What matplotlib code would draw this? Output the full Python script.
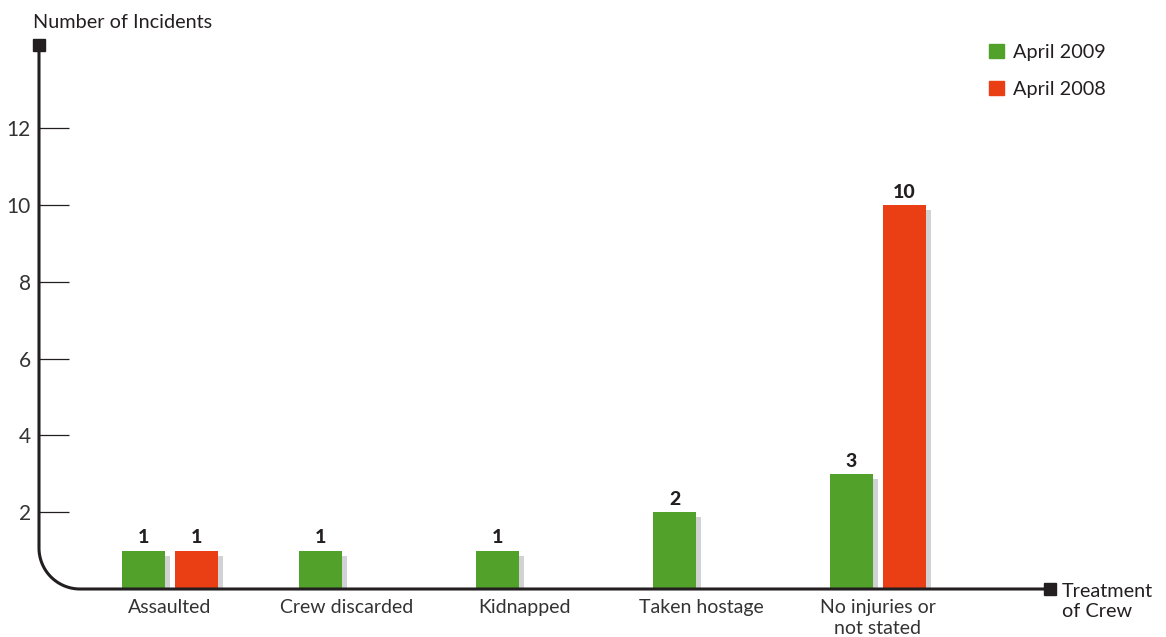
import matplotlib
matplotlib.use("Agg")
import matplotlib.pyplot as plt
from matplotlib.lines import Line2D
import numpy as np

plt.rcParams['font.family'] = ['Lato', 'DejaVu Sans']

categories = ["Assaulted", "Crew discarded", "Kidnapped", "Taken hostage", "No injuries or\nnot stated"]
april_2009 = [1, 1, 1, 2, 3]
april_2008 = [1, None, None, None, 10]
series_labels = ["April 2009", "April 2008"]
yticks = [2, 4, 6, 8, 10, 12]

GREEN = "#52a12b"
RED = "#ea3f14"
SHADOW = "#d1d2d4"
INK = "#231f20"

W, H = 1166, 637
fig = plt.figure(figsize=(W / 100, H / 100), dpi=100)

def fx(px):
    return px / W

def fy(py):
    return 1 - py / H

# axes geometry (pixels)
x_left, x_right = 39, 1050
y_base, y_top = 589, 45
ax = fig.add_axes([fx(x_left), fy(y_base), fx(x_right) - fx(x_left), fy(y_top) - fy(y_base)])
ax.patch.set_visible(False)
for s in ax.spines.values():
    s.set_visible(False)

px_per_cat = 177.0
px_per_unit = 38.4
first_center = (170 - x_left) / px_per_cat
ax.set_xlim(-first_center, (x_right - x_left) / px_per_cat - first_center)
ax.set_ylim(0, (y_base - y_top) / px_per_unit)

bw = 43 / px_per_cat
off_g = -26.5 / px_per_cat
off_r = 26.5 / px_per_cat
sh_dx = 5 / px_per_cat
sh_dy = 5 / px_per_unit

x = np.arange(len(categories))

def draw_series(vals, off, color):
    xs = [xi + off for xi, v in zip(x, vals) if v is not None]
    vs = [v for v in vals if v is not None]
    ax.bar([xx + sh_dx for xx in xs], [v - sh_dy for v in vs], width=bw, color=SHADOW, zorder=1)
    ax.bar(xs, vs, width=bw, color=color, zorder=2)
    for xx, v in zip(xs, vs):
        ax.annotate(str(v), (xx, v), xytext=(0, 3), textcoords="offset points",
                    ha="center", va="bottom", fontsize=14, fontweight="black", color=INK)

draw_series(april_2009, off_g, GREEN)
draw_series(april_2008, off_r, RED)

ax.set_yticks(yticks)
ax.set_yticklabels([str(t) for t in yticks])
ax.tick_params(axis="y", direction="in", length=30 * 0.72, width=0.9, color=INK,
               labelsize=15, labelcolor="#333333", pad=6)
ax.set_xticks(x)
ax.set_xticklabels(categories, linespacing=1.3)
ax.tick_params(axis="x", length=0, labelsize=14, labelcolor="#333333", pad=7)

# custom axis lines with rounded corner
r = 41
theta = np.linspace(np.pi, 1.5 * np.pi, 40)
arc_x = (x_left + r) + r * np.cos(theta)
arc_y = (y_base - r) - r * np.sin(theta)
path_x = np.concatenate([[x_left], arc_x, [x_right]])
path_y = np.concatenate([[y_top], arc_y, [y_base]])
fig.add_artist(Line2D(fx(path_x), fy(path_y), color=INK, lw=2.2, solid_capstyle="butt"))
fig.add_artist(Line2D([fx(x_left)], [fy(y_top)], marker="s", markersize=8.5, color=INK, lw=0))
fig.add_artist(Line2D([fx(x_right)], [fy(y_base)], marker="s", markersize=8.5, color=INK, lw=0))

fig.text(fx(33), fy(22), "Number of Incidents", ha="left", va="center", fontsize=14.3, color=INK)
fig.text(fx(1062), fy(601.5), "Treatment\nof Crew", ha="left", va="center", fontsize=14.3,
         color=INK, linespacing=1.25)

handles = [plt.Rectangle((0, 0), 1, 1, color=GREEN), plt.Rectangle((0, 0), 1, 1, color=RED)]
fig.legend(handles, series_labels, loc="upper left", bbox_to_anchor=(fx(971), fy(26)),
           frameon=False, fontsize=14.3, handlelength=0.75, handleheight=0.75,
           handletextpad=0.45, labelspacing=1.0, labelcolor=INK)

fig.savefig("out.png", dpi=100)
